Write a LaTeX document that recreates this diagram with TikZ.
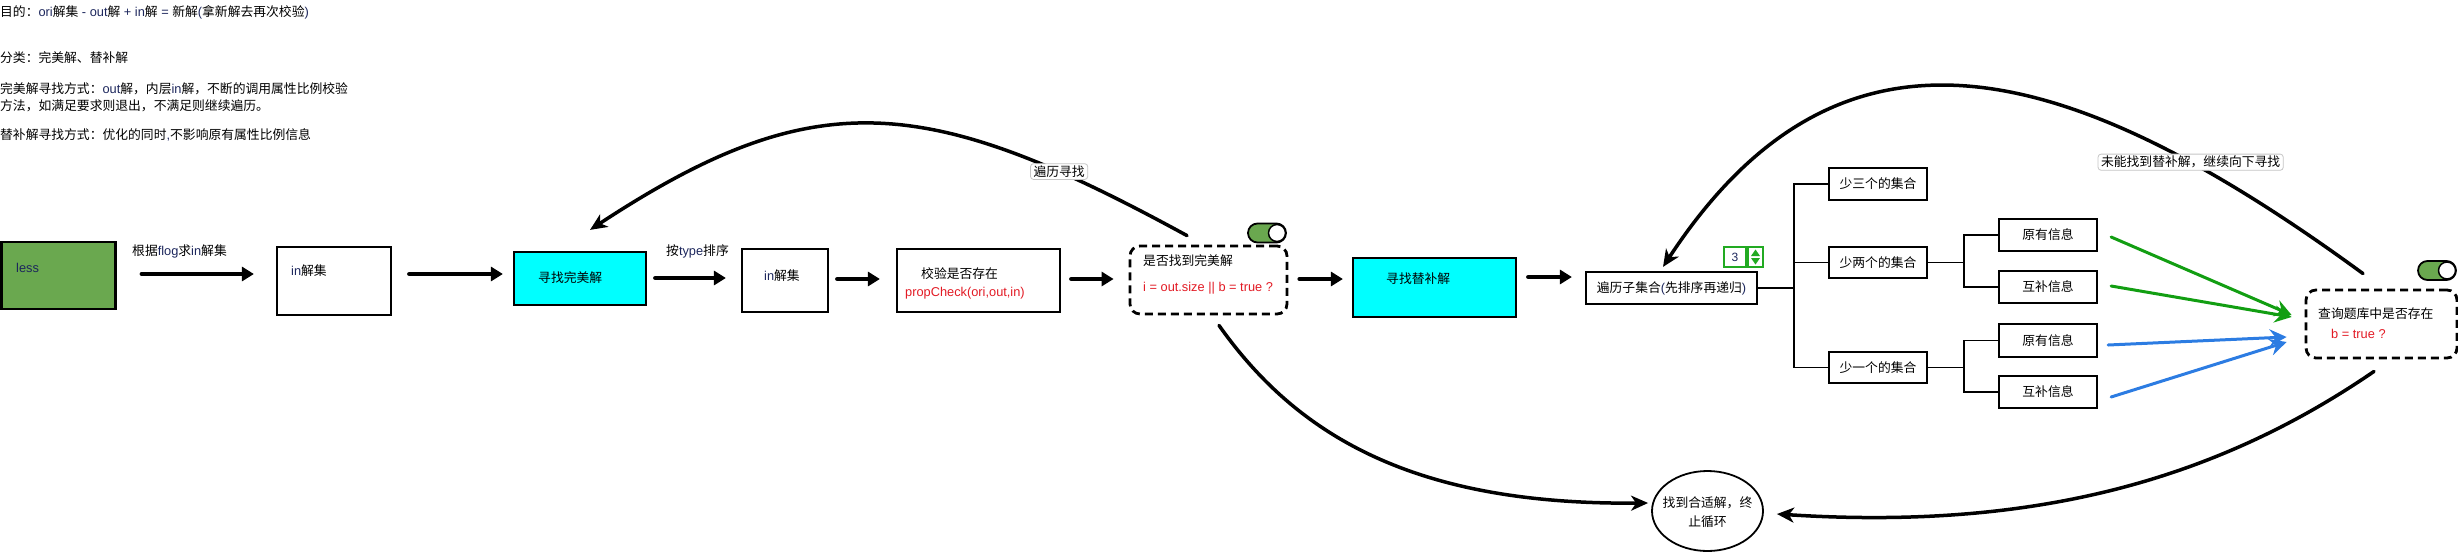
\documentclass[tikz,border=0pt]{standalone}
\usepackage{fontspec}
\setmainfont{Liberation Sans}
\newfontfamily\cjkf{Noto Sans CJK SC}
\usetikzlibrary{arrows.meta,shapes.geometric}
\definecolor{lessgreen}{RGB}{106,168,79}
\definecolor{cyanbox}{RGB}{0,255,255}
\definecolor{navy}{RGB}{28,38,92}
\definecolor{redtxt}{RGB}{226,26,36}
\definecolor{garrow}{RGB}{18,158,18}
\definecolor{barrow}{RGB}{44,124,226}
\definecolor{spingreen}{RGB}{34,170,34}
\newcommand\zh[1]{{\cjkf #1}}
\newcommand\en[1]{\textcolor{navy}{#1}}
\begin{document}
\begin{tikzpicture}[x=1pt,y=-1pt,
  fs/.style={font=\fontsize{12.8}{15}\selectfont},
  box/.style={draw=black, line width=2.2pt, inner sep=0pt, fs},
  dbox/.style={draw=black, line width=2.8pt, dash pattern=on 8pt off 5pt, rounded corners=10pt, inner sep=0pt},
  txt/.style={inner sep=0pt, anchor=west, fs},
  arr/.style={line width=4pt, line cap=round, -{Triangle[length=12pt,width=14pt]}},
  carr/.style={line width=3.5pt, line cap=round, -{Stealth[length=17pt,width=15pt,inset=5pt]}},
  gar/.style={line width=3pt, line cap=round, -{Stealth[length=17pt,width=17pt,inset=6pt]}},
  tree/.style={line width=1.6pt},
  lbl/.style={draw=gray!45, line width=0.8pt, fill=white, rounded corners=3pt, inner xsep=3pt, inner ysep=2pt, fs},
  tog/.style={draw=black, line width=1.8pt, fill=lessgreen, rounded corners=9.5pt, minimum width=38, minimum height=19, inner sep=0pt},
  knob/.style={circle, draw=black, line width=1.5pt, fill=white, minimum size=17, inner sep=0pt},
  spinbox/.style={draw=spingreen, line width=1.5pt, fill=white, minimum height=20, inner sep=0pt}
]
\useasboundingbox (0,0) rectangle (2458,552);

% notes at top left
\node[txt] (t1) at (0,12) {\zh{目的：}\en{ori}\zh{解集} \en{- out}\zh{解} \en{+ in}\zh{解} \en{=} \zh{新解}\en{(}\zh{拿新解去再次校验}\en{)}};
\node[txt] (t2) at (0,58) {\zh{分类：完美解、替补解}};
\node[txt] (t3) at (0,89) {\zh{完美解寻找方式：}\en{out}\zh{解，内层}\en{in}\zh{解，不断的调用属性比例校验}};
\node[txt] (t4) at (0,106) {\zh{方法，如满足要求则退出，不满足则继续遍历。}};
\node[txt] (t5) at (0,135) {\zh{替补解寻找方式：优化的同时}\en{,}\zh{不影响原有属性比例信息}};

% main chain
\node[box, fill=lessgreen, minimum width=114, minimum height=67] (less) at (58.5,275.5) {};
\node[txt] (lesst) at (16,268) {\en{less}};
\node[txt] (lab0) at (132,251) {\zh{根据}\en{flog}\zh{求}\en{in}\zh{解集}};
\node[box, minimum width=114, minimum height=68] (in1) at (334,281) {};
\node[txt] (in1t) at (291,271) {\en{in}\zh{解集}};
\node[box, fill=cyanbox, minimum width=132, minimum height=53] (cy1) at (580,278.5) {};
\node[txt] (cy1t) at (538,278) {\zh{寻找完美解}};
\node[txt] (lab1) at (666,251) {\zh{按}\en{type}\zh{排序}};
\node[box, minimum width=86, minimum height=63] (in2) at (785,280.5) {};
\node[txt] (in2t) at (764,276) {\en{in}\zh{解集}};
\node[box, minimum width=163, minimum height=63] (chk) at (978.5,280.5) {};
\node[txt] (chkt) at (921,274) {\zh{校验是否存在}};
\node[txt, text=redtxt] (chkr) at (905,293) {propCheck(ori,out,in)};
\node[dbox, minimum width=157, minimum height=68] (d1) at (1208.5,280) {};
\node[txt] (d1t) at (1143,261) {\zh{是否找到完美解}};
\node[txt, text=redtxt] (d1r) at (1143,288) {i = out.size || b = true ?};
\node[tog] (tg1) at (1267,233) {};
\node[knob] (tg1k) at ([xshift=10pt]tg1.center) {};
\node[box, fill=cyanbox, minimum width=163, minimum height=59] (cy2) at (1434.5,287.5) {};
\node[txt] (cy2t) at (1386,279) {\zh{寻找替补解}};
\node[box, minimum width=171, minimum height=32] (sub) at (1671.5,288) {\zh{遍历子集合}\en{(}\zh{先排序再递归}\en{)}};
\node[spinbox, minimum width=22, font=\fontsize{12}{14}\selectfont] (num) at (1735,257) {\en{3}};
\node[spinbox, minimum width=15] (spn) at (1755.5,257) {};
\fill[spingreen] ([xshift=-4.5pt,yshift=1pt]spn.center) -- ([xshift=4.5pt,yshift=1pt]spn.center) -- ([yshift=7.5pt]spn.center) -- cycle;
\fill[spingreen] ([xshift=-4.5pt,yshift=-1pt]spn.center) -- ([xshift=4.5pt,yshift=-1pt]spn.center) -- ([yshift=-7.5pt]spn.center) -- cycle;

% subsets
\node[box, minimum width=98, minimum height=32] (s3) at (1878,184) {\zh{少三个的集合}};
\node[box, minimum width=98, minimum height=31] (s2) at (1878,262.5) {\zh{少两个的集合}};
\node[box, minimum width=98, minimum height=31] (s1) at (1878,367.5) {\zh{少一个的集合}};
\node[box, minimum width=98, minimum height=32] (y1) at (2048,235) {\zh{原有信息}};
\node[box, minimum width=98, minimum height=32] (h1) at (2048,287) {\zh{互补信息}};
\node[box, minimum width=98, minimum height=33] (y2) at (2048,340.5) {\zh{原有信息}};
\node[box, minimum width=98, minimum height=32] (h2) at (2048,392) {\zh{互补信息}};

\node[dbox, minimum width=151, minimum height=68] (d2) at (2381.5,324) {};
\node[txt] (d2t) at (2318,314) {\zh{查询题库中是否存在}};
\node[txt, text=redtxt] (d2r) at (2331,334) {b = true ?};
\node[tog] (tg2) at (2437,270.5) {};
\node[knob] (tg2k) at ([xshift=10pt]tg2.center) {};

\node[ellipse, draw=black, line width=1.8pt, minimum width=111, minimum height=80, inner sep=0pt] (endc) at (1707.5,511) {};
\node[font=\fontsize{12.8}{19}\selectfont, align=center, inner sep=0pt] (endt) at (1707.5,512) {\zh{找到合适解，终}\\\zh{止循环}};

% straight arrows
\draw[arr, shorten <=25pt, shorten >=22pt] ([yshift=1.5pt]less.east) -- ([yshift=7pt]in1.west);
\draw[arr, shorten <=17pt, shorten >=10pt] ([yshift=7pt]in1.east) -- ([yshift=4.5pt]cy1.west);
\draw[arr, shorten <=8pt, shorten >=15pt] ([yshift=0.5pt]cy1.east) -- ([yshift=2.5pt]in2.west);
\draw[arr, shorten <=8pt, shorten >=16pt] ([yshift=1.5pt]in2.east) -- ([yshift=1.5pt]chk.west);
\draw[arr, shorten <=10pt, shorten >=15pt] ([yshift=1.5pt]chk.east) -- ([yshift=1pt]d1.west);
\draw[arr, shorten <=11pt, shorten >=9pt] ([yshift=1pt]d1.east) -- ([yshift=8.5pt]cy2.west);
\draw[arr, shorten <=11pt, shorten >=13pt] ([yshift=10.5pt]cy2.east) -- ([yshift=11pt]sub.west);

% tree lines
\draw[tree] (sub.east) -- ++(36,0) coordinate (tr1);
\draw[tree] (s3.west) -| (tr1) |- (s1.west);
\draw[tree] (tr1) |- (s2.west);
\draw[tree] (s2.east) -- ++(36,0) coordinate (tr2);
\draw[tree] (y1.west) -| (tr2) |- (h1.west);
\draw[tree] (s1.east) -- ++(36,0) coordinate (tr3);
\draw[tree] (y2.west) -| (tr3) |- (h2.west);

% coloured arrows
\draw[gar, color=garrow] ([xshift=13pt,yshift=-2pt]y1.east) -- ([xshift=-13pt,yshift=9pt]d2.west);
\draw[gar, color=garrow] ([xshift=13pt,yshift=1pt]h1.east) -- ([xshift=-13pt,yshift=7pt]d2.west);
\draw[gar, color=barrow] ([xshift=10pt,yshift=-4.5pt]y2.east) -- ([xshift=-18pt,yshift=-13pt]d2.west);
\draw[gar, color=barrow] ([xshift=13pt,yshift=-5pt]h2.east) -- ([xshift=-18pt,yshift=-18pt]d2.west);

% curved arrows
\draw[carr] ([xshift=-21.5pt,yshift=9pt]d1.north) .. controls (926,93) and (815,82) .. ([xshift=10pt,yshift=21pt]cy1.north) node[lbl, pos=0.18] (l1) {\zh{遍历寻找}};
\draw[carr] ([xshift=-18.5pt,yshift=15pt]d2.north) .. controls (2060,52) and (1838,0) .. ([xshift=-8.5pt,yshift=4pt]sub.north) node[lbl, pos=0.2] (l2) {\zh{未能找到替补解，继续向下寻找}};
\draw[carr] ([xshift=10.5pt,yshift=-10pt]d1.south) .. controls (1300,440) and (1420,505) .. ([xshift=-3pt,yshift=8pt]endc.west);
\draw[carr] ([xshift=-7.5pt,yshift=-12pt]d2.south) .. controls (2210,484) and (2026,530) .. ([xshift=13pt,yshift=-3pt]endc.east);
\end{tikzpicture}
\end{document}
